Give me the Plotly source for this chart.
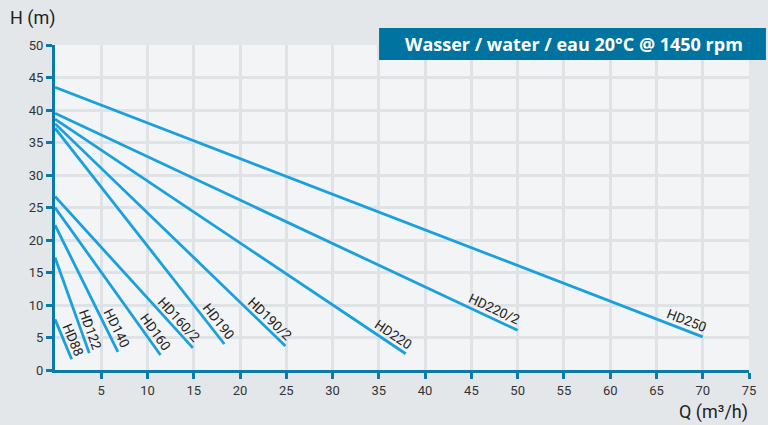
import math
import plotly.graph_objects as go

# ---- data ----
models = ["HD88", "HD122", "HD140", "HD160", "HD160/2", "HD190", "HD190/2", "HD220", "HD220/2", "HD250"]
h_start = [7.8, 17.3, 22.3, 25.0, 26.7, 37.2, 37.9, 38.6, 39.5, 43.5]
q_end = [1.8, 3.7, 6.8, 11.4, 14.9, 18.3, 24.9, 37.9, 50.0, 70.0]
h_end = [1.65, 2.6, 2.8, 2.3, 3.4, 4.0, 3.7, 2.5, 6.1, 5.1]
x_ticks = [5, 10, 15, 20, 25, 30, 35, 40, 45, 50, 55, 60, 65, 70, 75]
y_ticks = [0, 5, 10, 15, 20, 25, 30, 35, 40, 45, 50]
title_text = "Wasser / water / eau 20°C @ 1450 rpm"

W, H = 768, 425
ML, MR, MT, MB = 55, 17, 45, 55
XMAX, YMAX = 75, 50
pw, ph = W - ML - MR, H - MT - MB
sx, sy = pw / XMAX, ph / YMAX

LINE = "#1aa0dc"
AXIS = "#0a7aa8"
FONT = "Roboto"

fig = go.Figure()
for m, h0, q1, h1 in zip(models, h_start, q_end, h_end):
    fig.add_trace(go.Scatter(x=[0, q1], y=[h0, h1], mode="lines",
                             line=dict(color=LINE, width=2.8), name=m,
                             showlegend=False, hoverinfo="skip"))
    dx = q1 * sx
    dy = (h0 - h1) * sy
    L = math.hypot(dx, dy)
    ux, uy = dx / L, dy / L
    px, py = uy, -ux
    along = 4.1 * len(m) + 1
    perp = 9.5
    offx = -along * ux + perp * px
    offy = -along * uy + perp * py
    ang = math.degrees(math.atan2(dy, dx))
    fig.add_annotation(x=q1, y=h1, xref="x", yref="y", text=m, showarrow=False,
                       textangle=ang, xanchor="center", yanchor="middle",
                       xshift=offx, yshift=-offy,
                       font=dict(family=FONT, size=13.5, color="#222222"))

# banner
fig.add_shape(type="rect", xref="paper", yref="paper",
              x0=(380 - ML) / pw, x1=(768 - ML) / pw,
              y0=(H - MB - 60) / ph, y1=(H - MB - 28) / ph,
              fillcolor="#0073a0", line=dict(width=0), layer="above")
fig.add_annotation(xref="paper", yref="paper", x=(575 - ML) / pw, y=(H - MB - 44) / ph,
                   text="<b>" + title_text + "</b>", showarrow=False,
                   xanchor="center", yanchor="middle",
                   font=dict(family="Open Sans", size=18, color="white"))
# axis titles
fig.add_annotation(xref="paper", yref="paper", x=(8 - ML) / pw, y=(H - MB - 18) / ph,
                   text="H (m)", showarrow=False, xanchor="left", yanchor="middle",
                   font=dict(family=FONT, size=18, color="#222222"))
fig.add_annotation(xref="paper", yref="paper", x=(752 - ML) / pw, y=(H - MB - 412) / ph,
                   text="Q (m³/h)", showarrow=False, xanchor="right", yanchor="middle",
                   font=dict(family=FONT, size=18, color="#222222"))

fig.update_layout(
    width=W, height=H,
    margin=dict(l=ML, r=MR, t=MT, b=MB),
    paper_bgcolor="#e4e7ea", plot_bgcolor="#f2f4f6",
    font=dict(family=FONT, size=13, color="#333333"),
)
fig.update_xaxes(range=[0, XMAX], tickvals=x_ticks, showgrid=True, gridcolor="#e0e3e6",
                 gridwidth=2.5, showline=True, linecolor=AXIS, linewidth=3,
                 ticks="outside", ticklen=6, tickwidth=2.5, tickcolor=AXIS,
                 zeroline=False, tickfont=dict(size=13, color="#333333"))
fig.update_yaxes(range=[0, YMAX], tickvals=y_ticks, showgrid=True, gridcolor="#e0e3e6",
                 gridwidth=2.5, showline=True, linecolor=AXIS, linewidth=3,
                 ticks="outside", ticklen=6, tickwidth=2.5, tickcolor=AXIS,
                 zeroline=False, tickfont=dict(size=13, color="#333333"))

fig.write_html("out.html", config={"displayModeBar": False},
               post_script="document.body.style.margin='0';document.body.style.overflow='hidden';")
